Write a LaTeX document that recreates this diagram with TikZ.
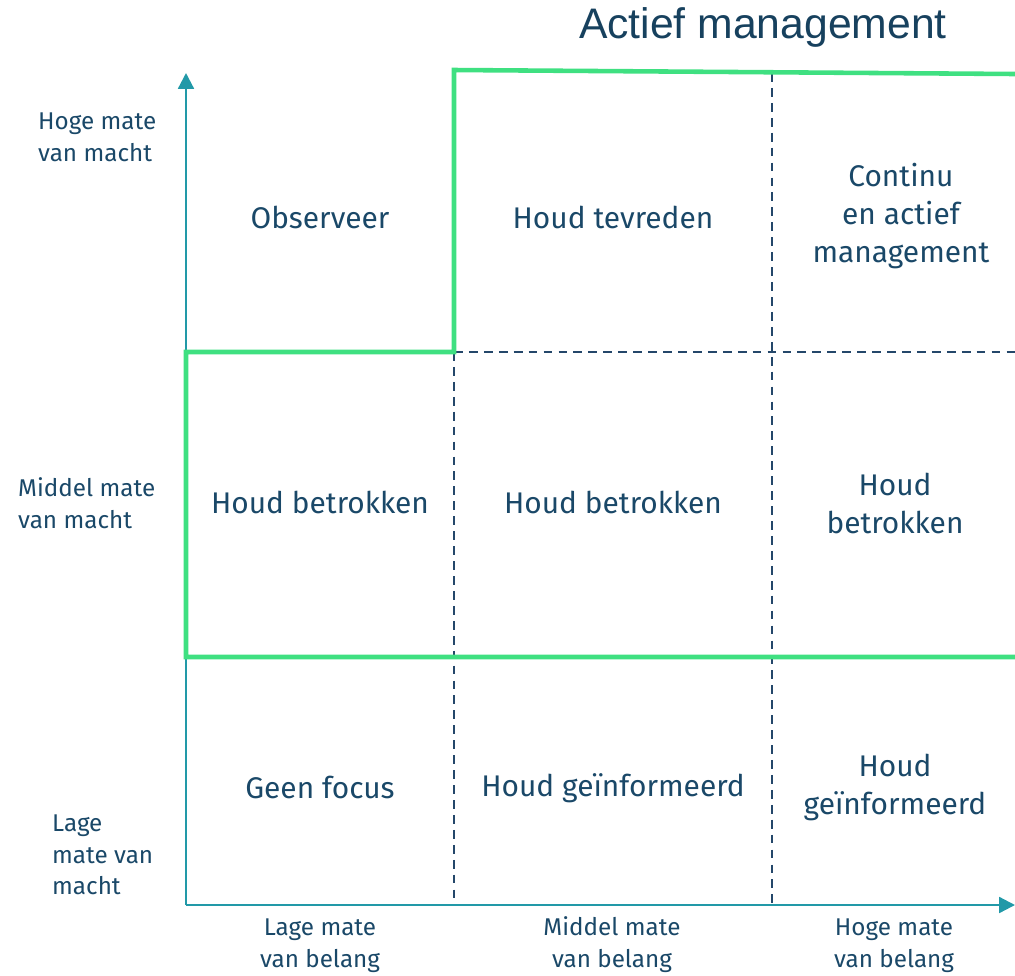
\documentclass[tikz,border=0pt]{standalone}
\usepackage{fontspec}
\setmainfont{Fira Sans}
\newfontfamily\titlefont{Liberation Sans}
\usetikzlibrary{arrows.meta}

\definecolor{tekst}{HTML}{1A4868}
\definecolor{as}{HTML}{2299A8}
\definecolor{groen}{HTML}{3FE081}
\definecolor{raster}{HTML}{24476A}

\begin{document}
\begin{tikzpicture}
[x=0.02cm,y=-0.02cm,%
  cel/.style={text=tekst,align=center,font=\fontsize{17}{21.6}\selectfont},%
  aslabel/.style={text=tekst,font=\fontsize{13.8}{18}\selectfont},%
  raster/.style={draw=raster,thick,dash pattern=on 5pt off 3.5pt},%
  pijl/.style={draw=as,line width=1.3pt,-{Triangle[length=9pt,width=9pt]}}]
\useasboundingbox (0,0) rectangle (1015,975);
% raster
\coordinate (o) at (186,905);
\coordinate (ytop) at (186,73);
\coordinate (xend) at (1015,905);
\draw[raster] (454,352) -- (454,905);
\draw[raster] (772,73) -- (772,905);
\draw[raster] (454,352) -- (1015,352);
\draw[raster] (186,657) -- (1015,657);
% assen
\draw[pijl] (o) -- (ytop);
\draw[pijl] (o) -- (xend);
% actief management
\draw[groen,line width=2.6pt] (1015,657) -- (186,657) -- (186,352)
  -- (454,352) -- (454,70) -- (1015,74);
\node[text=tekst!90!black,font=\titlefont\fontsize{24.3}{28}\selectfont] (titel) at (763,27) {Actief management};
% cellen
\node[cel] (c11) at (320,217) {Observeer};
\node[cel] (c12) at (613,217) {Houd tevreden};
\node[cel] (c13) at (901,216) {Continu\\en actief\\management};
\node[cel] (c21) at (320,502) {Houd betrokken};
\node[cel] (c22) at (613,502) {Houd betrokken};
\node[cel] (c23) at (895,503) {Houd\\betrokken};
\node[cel] (c31) at (320,787) {Geen focus};
\node[cel] (c32) at (613,788) {Houd geïnformeerd};
\node[cel] (c33) at (895,787) {Houd\\geïnformeerd};
% macht
\node[aslabel,align=left,anchor=west] (hoog) at (32,137) {Hoge mate\\van macht};
\node[aslabel,align=left,anchor=west] (midden) at (12,503) {Middel mate\\van macht};
\node[aslabel,align=left,anchor=west] (laag) at (46,855) {Lage\\mate van\\macht};
% belang
\node[aslabel,align=center,anchor=base] (blaag) at (320,967) {Lage mate\\van belang};
\node[aslabel,align=center,anchor=base] (bmidden) at (612,967) {Middel mate\\van belang};
\node[aslabel,align=center,anchor=base] (bhoog) at (894,967) {Hoge mate\\van belang};
\end{tikzpicture}
\end{document}
